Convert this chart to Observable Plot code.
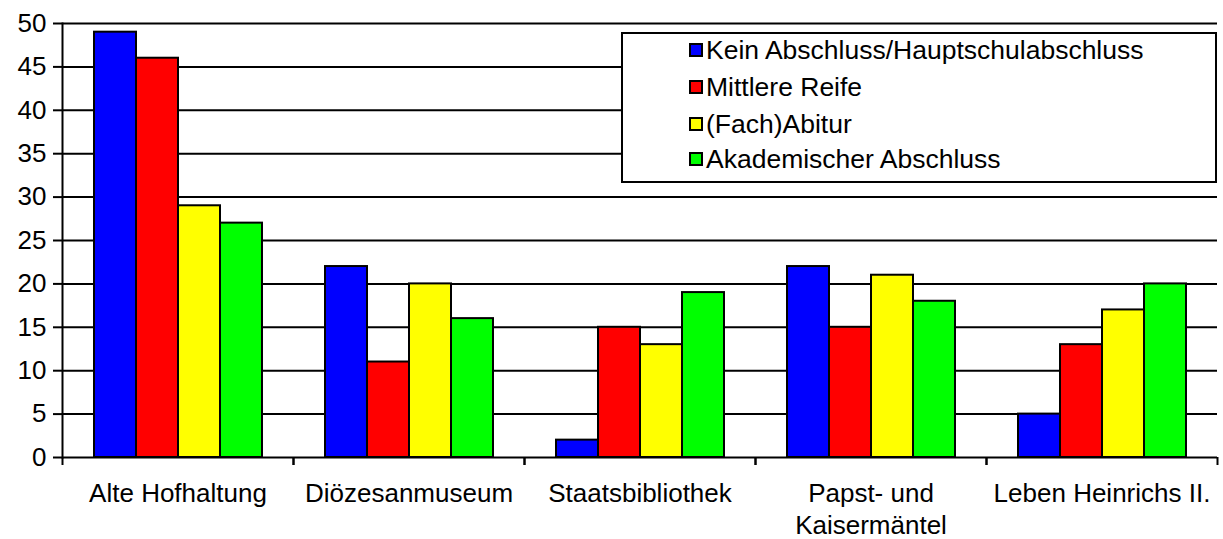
<!DOCTYPE html>
<html>
<head>
<meta charset="utf-8">
<script src="https://cdn.jsdelivr.net/npm/d3@7"></script>
<script src="https://cdn.jsdelivr.net/npm/@observablehq/plot@0.6"></script>
<style>
  html, body { margin: 0; padding: 0; background: #fff; }
  #wrap { position: relative; width: 1223px; height: 539px; font-family: Arial, "Liberation Sans", sans-serif; }
  #legend { position: absolute; left: 621px; top: 32px; width: 592px; height: 147px; border: 2px solid #000; background: #fff; }
  .row { position: absolute; left: 66px; display: flex; align-items: center; font-size: 26.5px; color: #000; white-space: nowrap; }
  .sw { width: 10px; height: 10px; border: 2px solid #000; margin-right: 3px; }
</style>
</head>
<body>
<div id="wrap"></div>
<script>
const categories = ["Alte Hofhaltung", "Diözesanmuseum", "Staatsbibliothek", "Papst- und Kaisermäntel", "Leben Heinrichs II."];
const series = ["Kein Abschluss/Hauptschulabschluss", "Mittlere Reife", "(Fach)Abitur", "Akademischer Abschluss"];
const colors = ["#0000FF", "#FF0000", "#FFFF00", "#00FF00"];
const keinAbschluss = [49, 22, 2, 22, 5];
const mittlereReife = [46, 11, 15, 15, 13];
const fachAbitur = [29, 20, 13, 21, 17];
const akademisch = [27, 16, 19, 18, 20];
const yTicks = [0, 5, 10, 15, 20, 25, 30, 35, 40, 45, 50];

const valuesBySeries = [keinAbschluss, mittlereReife, fachAbitur, akademisch];
const data = [];
categories.forEach((c, i) => series.forEach((s, j) => data.push({category: c, series: s, value: valuesBySeries[j][i]})));

const font = "Arial, 'Liberation Sans', sans-serif";
const chart = Plot.plot({
  width: 1223,
  height: 539,
  marginLeft: 62,
  marginRight: 6,
  marginTop: 23,
  marginBottom: 82,
  style: {fontFamily: font, fontSize: "26px", color: "#000", background: "#fff", overflow: "visible"},
  fx: {domain: categories, padding: 0, label: null},
  x: {domain: series, paddingInner: 0, paddingOuter: 0.75, axis: null},
  y: {domain: [0, 50], label: null},
  color: {domain: series, range: colors},
  marks: [
    Plot.ruleY(yTicks, {stroke: "#000", strokeWidth: 2}),
    Plot.barY(data, {fx: "category", x: "series", y: "value", fill: "series", stroke: "#000", strokeWidth: 2}),
    Plot.frame({anchor: "left", facetAnchor: "left", stroke: "#000", strokeWidth: 2}),
    Plot.axisY({ticks: yTicks, tickSize: 9, tickPadding: 7, strokeWidth: 2, label: null, fontSize: 26}),
    Plot.axisFx({anchor: "bottom", tickSize: 0, tickPadding: 22, lineWidth: 9, lineHeight: 1.23, fontSize: 26, label: null}),
    Plot.axisFx({anchor: "bottom", tickSize: 8, tickFormat: () => "", dx: -115.5, strokeWidth: 2, label: null}),
    Plot.axisFx({anchor: "bottom", tickSize: 8, tickFormat: () => "", dx: 115.5, strokeWidth: 2, label: null})
  ]
});

const wrap = document.getElementById("wrap");
wrap.appendChild(chart);
const legend = document.createElement("div");
legend.id = "legend";
const rowTops = [1, 38, 75, 110];
series.forEach((s, i) => {
  const row = document.createElement("div");
  row.className = "row";
  row.style.top = rowTops[i] + "px";
  row.style.height = "30px";
  const sw = document.createElement("div");
  sw.className = "sw";
  sw.style.background = colors[i];
  const t = document.createElement("span");
  t.textContent = s;
  row.appendChild(sw);
  row.appendChild(t);
  legend.appendChild(row);
});
wrap.appendChild(legend);
</script>
</body>
</html>
